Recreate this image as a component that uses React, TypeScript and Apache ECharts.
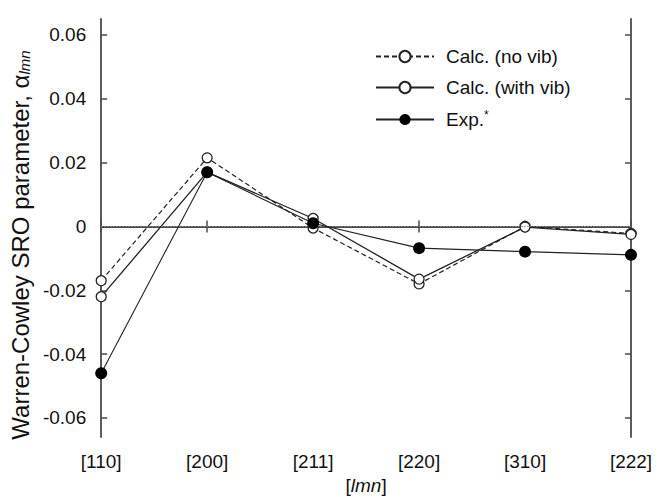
import React, { useEffect, useRef } from "react";
import * as echarts from "echarts";

const categories = ["[110]", "[200]", "[211]", "[220]", "[310]", "[222]"];
const calcNoVib = [-0.017, 0.0215, -0.0005, -0.018, 0.0, -0.0022];
const calcWithVib = [-0.022, 0.017, 0.0025, -0.0165, -0.0002, -0.0025];
const expValues = [-0.046, 0.017, 0.001, -0.0068, -0.0079, -0.0089];
const yTicks = [-0.06, -0.04, -0.02, 0, 0.02, 0.04, 0.06];
const seriesNames = ["Calc. (no vib)", "Calc. (with vib)", "Exp.*"];

const FONT = "Liberation Sans, Arial, Helvetica, sans-serif";
const AX = "#4a4a4a";
const TXT = "#111";

export default function App() {
  const ref = useRef<HTMLDivElement>(null);
  useEffect(() => {
    document.body.style.margin = "0";
    if (!ref.current) return;
    const chart = echarts.init(ref.current, undefined, { renderer: "svg" });
    const fmt = (v: number) => (Math.abs(v) < 1e-9 ? "0" : v.toFixed(2));
    const yBase = {
      type: "value" as const,
      min: -0.066,
      max: 0.065,
      splitLine: { show: false },
      axisLine: { show: true, lineStyle: { color: AX, width: 1.8 } },
      axisTick: {
        show: true,
        inside: true,
        length: 6,
        customValues: yTicks,
        lineStyle: { color: AX, width: 1.5 },
      },
    };
    const xBase = {
      type: "category" as const,
      data: categories,
      boundaryGap: false,
      splitLine: { show: false },
      axisLine: { show: true, lineStyle: { color: AX, width: 1.8 } },
      axisTick: { show: true, inside: true, length: 6, lineStyle: { color: AX, width: 1.5 } },
    };
    chart.setOption({
      animation: false,
      textStyle: { fontFamily: FONT },
      grid: { left: 100, right: 25, top: 19, bottom: 60 },
      legend: {
        orient: "vertical",
        left: 370,
        top: 42,
        itemWidth: 58,
        itemHeight: 14,
        itemGap: 12,
        data: seriesNames,
        textStyle: {
          fontSize: 19,
          lineHeight: 19,
          color: TXT,
          fontFamily: FONT,
          padding: [0, 0, 0, 7],
          rich: { s: { fontSize: 12, color: TXT, padding: [0, 0, 9, 0] } },
        },
        formatter: (name: string) => (name === "Exp.*" ? "Exp.{s|*}" : name),
      },
      xAxis: [
        {
          ...xBase,
          position: "bottom",
          name: "[{i|lmn}]",
          nameLocation: "middle",
          nameGap: 38,
          nameTextStyle: {
            fontSize: 19,
            color: TXT,
            rich: { i: { fontStyle: "italic", fontSize: 19, color: TXT } },
          },
          axisLabel: { fontSize: 19, color: TXT, margin: 15 },
        },
        { ...xBase, position: "top", axisLabel: { show: false } },
      ],
      yAxis: [
        {
          ...yBase,
          position: "left",
          name: "Warren-Cowley SRO parameter, {a|α}{s|lmn}",
          nameLocation: "middle",
          nameRotate: 90,
          nameGap: 60,
          nameTextStyle: {
            fontSize: 24,
            color: TXT,
            padding: [0, 34, 0, 0],
            rich: {
              a: { fontSize: 24, color: TXT },
              s: { fontSize: 15, fontStyle: "italic", color: TXT, padding: [8, 0, 0, 0] },
            },
          },
          axisLabel: {
            fontSize: 19,
            color: TXT,
            margin: 15,
            customValues: yTicks,
            formatter: fmt,
          },
        },
        { ...yBase, position: "right", axisLabel: { show: false } },
      ],
      series: [
        {
          name: seriesNames[0],
          type: "line",
          data: calcNoVib,
          symbol: "circle",
          symbolSize: 10,
          lineStyle: { color: "#222", width: 1.2, type: [5, 3] },
          itemStyle: { color: "#fff", borderColor: "#222", borderWidth: 1.3 },
          z: 3,
          markLine: {
            silent: true,
            symbol: "none",
            label: { show: false },
            lineStyle: { color: "#8a8a8a", width: 1, type: [1.5, 1.5] },
            data: [{ yAxis: 0 }],
          },
        },
        {
          name: seriesNames[1],
          type: "line",
          data: calcWithVib,
          symbol: "circle",
          symbolSize: 10,
          lineStyle: { color: "#222", width: 1.3, type: "solid" },
          itemStyle: { color: "#fff", borderColor: "#222", borderWidth: 1.3 },
          z: 4,
        },
        {
          name: seriesNames[2],
          type: "line",
          data: expValues,
          symbol: "circle",
          symbolSize: 12,
          lineStyle: { color: "#222", width: 1.1, type: "solid" },
          itemStyle: { color: "#000", borderColor: "#000", borderWidth: 0 },
          z: 5,
        },
      ],
    });
    return () => chart.dispose();
  }, []);
  return <div ref={ref} style={{ width: 656, height: 500 }} />;
}
